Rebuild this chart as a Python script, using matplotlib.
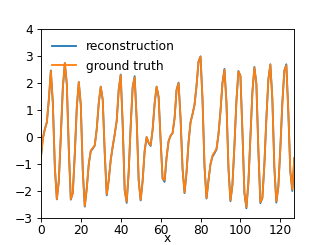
import numpy as np
import matplotlib
matplotlib.use("Agg")
import matplotlib.pyplot as plt

plt.rcParams['font.size'] = 10.8

# values, one per integer x (0..127)
ground_truth = [
    -0.75, -0.05, 0.30, 0.55, 1.40, 2.45, 1.26, -1.11, -2.30, -1.62,
    0.05, 1.82, 2.75, 1.97, -0.47, -2.30, -2.07, -0.62, 1.10, 2.04,
    1.20, -1.25, -2.56, -1.90, -1.00, -0.50, -0.40, -0.31, 0.30, 1.26,
    1.87, 1.38, -0.58, -2.12, -1.60, -0.85, -0.35, 0.10, 0.60, 1.75,
    2.30, 0.47, -1.97, -2.40, -1.31, 0.41, 1.85, 2.22, 0.67, -1.59,
    -2.33, -1.62, -0.52, 0.00, -0.20, -0.30, 0.27, 1.24, 1.87, 1.49,
    -0.10, -1.54, -1.60, -0.75, -0.15, 0.05, 0.15, 0.70, 1.75, 2.00,
    0.70, -1.18, -2.06, -1.30, -0.20, 0.55, 0.85, 1.20, 1.90, 2.80,
    2.99, 1.40, -1.08, -2.26, -1.60, -1.00, -0.68, -0.56, -0.43, 0.10,
    0.95, 2.00, 2.50, 1.29, -1.14, -2.35, -1.77, -0.31, 1.35, 2.43,
    2.27, 0.22, -2.07, -2.60, -1.68, -0.01, 1.66, 2.58, 1.97, -0.49,
    -2.41, -2.26, -1.02, 0.68, 2.13, 2.69, 1.42, -1.12, -2.39, -1.84,
    -0.42, 1.25, 2.46, 2.66, 0.95, -1.27, -1.95, -0.78,
]

# reconstruction sits almost exactly on the ground truth
reconstruction = [
    -0.78, -0.05, 0.30, 0.55, 1.40, 2.47, 1.26, -1.11, -2.31, -1.62,
    0.05, 1.82, 2.74, 1.97, -0.47, -2.32, -2.07, -0.62, 1.10, 2.04,
    1.20, -1.25, -2.58, -1.90, -1.00, -0.52, -0.43, -0.31, 0.30, 1.26,
    1.87, 1.38, -0.58, -2.16, -1.60, -0.85, -0.35, 0.10, 0.60, 1.75,
    2.32, 0.47, -1.97, -2.44, -1.31, 0.41, 1.85, 2.26, 0.67, -1.59,
    -2.35, -1.62, -0.52, 0.00, -0.22, -0.33, 0.27, 1.24, 1.87, 1.49,
    -0.10, -1.54, -1.66, -0.75, -0.15, 0.05, 0.15, 0.70, 1.75, 2.02,
    0.70, -1.18, -2.08, -1.30, -0.20, 0.55, 0.85, 1.20, 1.90, 2.80,
    2.99, 1.40, -1.08, -2.28, -1.60, -1.00, -0.72, -0.60, -0.46, 0.10,
    0.95, 2.00, 2.53, 1.29, -1.14, -2.38, -1.77, -0.31, 1.35, 2.45,
    2.27, 0.22, -2.07, -2.64, -1.68, -0.01, 1.66, 2.60, 1.97, -0.49,
    -2.45, -2.26, -1.02, 0.68, 2.13, 2.70, 1.42, -1.12, -2.43, -1.84,
    -0.42, 1.25, 2.46, 2.70, 0.95, -1.27, -2.00, -0.78,
]

xticks = [0, 20, 40, 60, 80, 100, 120]
yticks = [-3, -2, -1, 0, 1, 2, 3, 4]

x = np.arange(len(ground_truth))

fig, ax = plt.subplots(figsize=(4, 3), dpi=81.75)
ax.plot(x, reconstruction, label='reconstruction', lw=1.6)
ax.plot(x, ground_truth, label='ground truth', lw=1.6)
ax.set_xlim(0, 127)
ax.set_ylim(-3, 4)
ax.set_xticks(xticks)
ax.set_yticks(yticks)
ax.tick_params(axis='x', pad=1.5)
ax.set_xlabel('x', va='bottom')
ax.xaxis.set_label_coords(0.5, -0.142)
ax.legend(loc='upper left', frameon=False)

fig.savefig('out.png', dpi=81.75)
